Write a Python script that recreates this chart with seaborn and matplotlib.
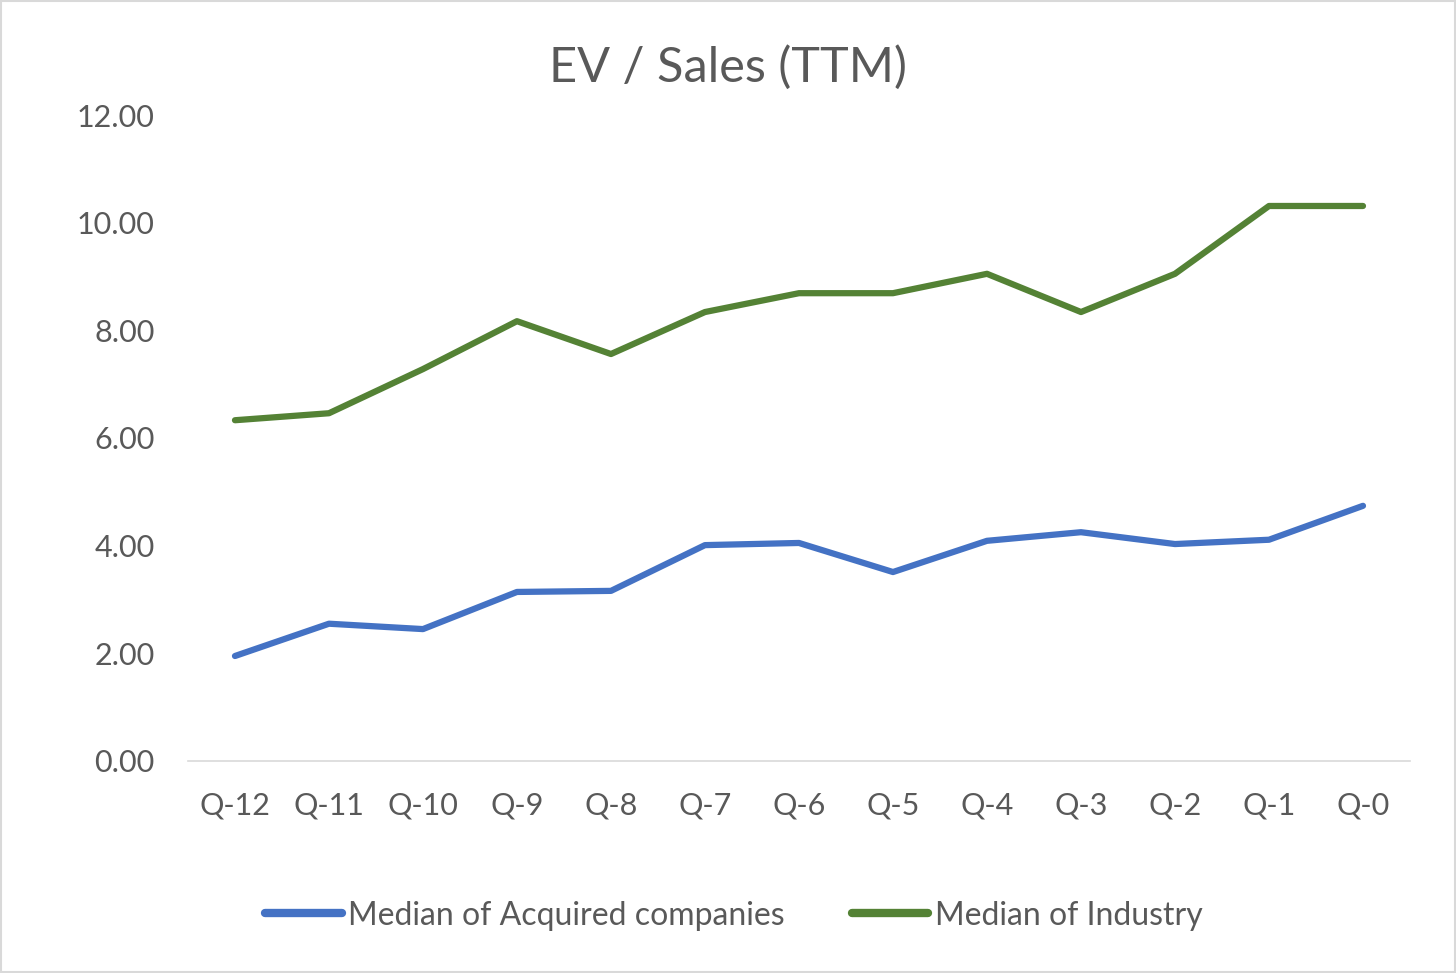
import pandas as pd
import matplotlib.pyplot as plt
import seaborn as sns

# Quarter labels and the two median series
quarters = ['Q-12', 'Q-11', 'Q-10', 'Q-9', 'Q-8', 'Q-7', 'Q-6',
            'Q-5', 'Q-4', 'Q-3', 'Q-2', 'Q-1', 'Q-0']
acquired = [1.95, 2.55, 2.45, 3.14, 3.16, 4.01, 4.05,
            3.51, 4.09, 4.25, 4.03, 4.11, 4.74]
industry = [6.33, 6.46, 7.28, 8.17, 7.56, 8.34, 8.69,
            8.69, 9.05, 8.34, 9.05, 10.31, 10.31]
series_names = ['Median of Acquired companies', 'Median of Industry']
colors = ['#4472C4', '#548235']

sns.set_style('white')
plt.rcParams['font.family'] = ['Lato', 'DejaVu Sans']
text_color = '#595959'

df = pd.DataFrame({
    'quarter': quarters * 2,
    'pos': list(range(len(quarters))) * 2,
    'value': acquired + industry,
    'series': [series_names[0]] * len(quarters) + [series_names[1]] * len(quarters),
})

fig = plt.figure(figsize=(14.56, 9.73), dpi=100)
ax = fig.add_axes([0.1291, 0.2179, 0.8393, 0.6639])

sns.lineplot(data=df, x='pos', y='value', hue='series', palette=colors,
             linewidth=4.5, ax=ax, legend=False, solid_capstyle='round')

ax.set_xlim(-0.5, len(quarters) - 0.5)
ax.set_ylim(0, 12)
ax.set_xticks(range(len(quarters)))
ax.set_xticklabels(quarters)
ax.set_yticks(range(0, 13, 2))
ax.set_yticklabels([f'{v:.2f}' for v in range(0, 13, 2)])
ax.tick_params(axis='both', length=0, labelsize=22, labelcolor=text_color)
ax.tick_params(axis='x', pad=22)
ax.tick_params(axis='y', pad=24)
ax.set_xlabel('')
ax.set_ylabel('')
for side in ['top', 'right', 'left']:
    ax.spines[side].set_visible(False)
ax.spines['bottom'].set_color('#D9D9D9')
ax.spines['bottom'].set_linewidth(1.2)

fig.text(0.5, 0.931, 'EV / Sales (TTM)', ha='center', va='center',
         fontsize=35, color=text_color)

handles = [plt.Line2D([], [], color=c, linewidth=6, solid_capstyle='round') for c in colors]
fig.legend(handles, series_names, loc='center', bbox_to_anchor=(0.504, 0.059),
           ncol=2, frameon=False, fontsize=23, labelcolor=text_color,
           handlelength=2.4, handletextpad=0.2, columnspacing=2.1)

# light frame around the chart
fig.patches.append(plt.Rectangle((0.001, 0.001), 0.998, 0.998, transform=fig.transFigure,
                                 fill=False, edgecolor='#D9D9D9', linewidth=1.5))

plt.savefig('out.png', dpi=100)
